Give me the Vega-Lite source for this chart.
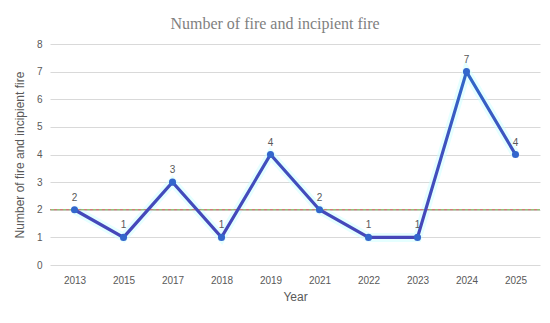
{
  "$schema": "https://vega.github.io/schema/vega-lite/v6.json",
  "autosize": {"type": "none"},
  "width": 490,
  "height": 221,
  "padding": {"left": 50, "top": 44, "right": 10, "bottom": 58},
  "background": "white",
  "title": {
    "text": "Number of fire and incipient fire",
    "font": "Liberation Serif",
    "fontSize": 16,
    "fontWeight": "normal",
    "color": "#7f7f7f",
    "anchor": "middle",
    "dx": -20,
    "offset": 7
  },
  "config": {
    "view": {"stroke": null},
    "font": "Liberation Sans"
  },
  "data": {
    "values": [
      {"Year": "2013", "Count": 2},
      {"Year": "2015", "Count": 1},
      {"Year": "2017", "Count": 3},
      {"Year": "2018", "Count": 1},
      {"Year": "2019", "Count": 4},
      {"Year": "2021", "Count": 2},
      {"Year": "2022", "Count": 1},
      {"Year": "2023", "Count": 1},
      {"Year": "2024", "Count": 7},
      {"Year": "2025", "Count": 4}
    ]
  },
  "encoding": {
    "x": {
      "field": "Year",
      "type": "ordinal",
      "scale": {"type": "point", "padding": 0.5},
      "axis": {
        "title": "Year",
        "labelAngle": 0,
        "labelFontSize": 10,
        "labelColor": "#595959",
        "labelPadding": 10,
        "domain": false,
        "ticks": false,
        "titleFontSize": 12,
        "titleFontWeight": "normal",
        "titleColor": "#595959",
        "titlePadding": 6
      }
    },
    "y": {
      "field": "Count",
      "type": "quantitative",
      "scale": {"domain": [0, 8]},
      "axis": {
        "title": "Number of fire and incipient fire",
        "values": [0, 1, 2, 3, 4, 5, 6, 7, 8],
        "labelFontSize": 10,
        "labelColor": "#595959",
        "labelPadding": 8,
        "domain": false,
        "ticks": false,
        "gridColor": "#d9d9d9",
        "titleFontSize": 12,
        "titleFontWeight": "normal",
        "titleColor": "#595959",
        "titlePadding": 10
      }
    }
  },
  "layer": [
    {
      "mark": {"type": "line", "stroke": "#ccffff", "strokeWidth": 9, "opacity": 0.5}
    },
    {
      "data": {"values": [{"ref": 2}]},
      "mark": {"type": "rule", "stroke": "#70ad47", "strokeWidth": 1, "strokeDash": [3, 3]},
      "encoding": {"y": {"field": "ref", "type": "quantitative"}, "x": null}
    },
    {
      "data": {"values": [{"ref": 2}]},
      "mark": {"type": "rule", "stroke": "#c0504d", "strokeWidth": 1, "strokeDash": [3, 3], "strokeDashOffset": 3},
      "encoding": {"y": {"field": "ref", "type": "quantitative"}, "x": null}
    },
    {
      "mark": {
        "type": "line",
        "strokeWidth": 3.2,
        "stroke": {
          "gradient": "linear",
          "x1": 0, "y1": 0, "x2": 0, "y2": 1,
          "stops": [
            {"offset": 0, "color": "#3168c8"},
            {"offset": 0.45, "color": "#3f52bf"},
            {"offset": 1, "color": "#4646b9"}
          ]
        }
      }
    },
    {
      "mark": {"type": "point", "filled": true, "size": 50, "color": "#3366cc", "opacity": 1}
    },
    {
      "mark": {"type": "text", "dy": -12, "fontSize": 10, "color": "#595959"},
      "encoding": {"text": {"field": "Count", "type": "quantitative"}}
    }
  ]
}
